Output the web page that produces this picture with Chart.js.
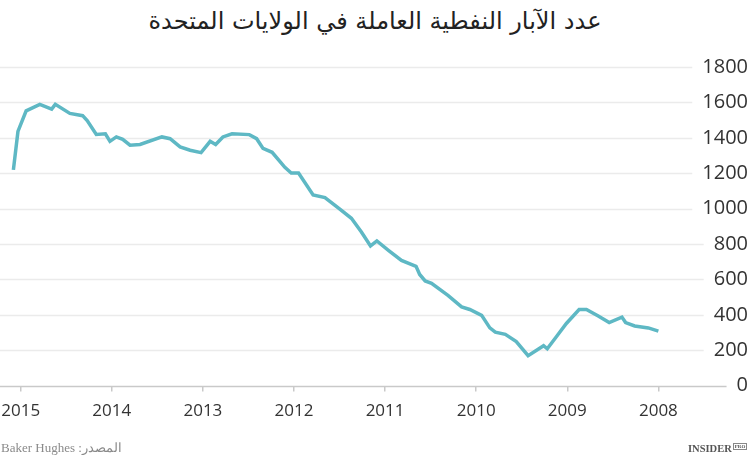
<!DOCTYPE html>
<html lang="ar">
<head>
<meta charset="utf-8">
<script src="https://cdn.jsdelivr.net/npm/chart.js@4"></script>
<style>
  html, body { margin: 0; padding: 0; background: #fff; }
  #wrap { position: relative; width: 750px; height: 455px; overflow: hidden; }
  #titulo { position: absolute; left: 0; top: 7px; width: 750px; text-align: center;
            font-family: "DejaVu Sans", sans-serif; font-size: 24px; color: #222; }
  #fuente { position: absolute; left: 1px; top: 440px; font-family: "Liberation Serif", serif;
            font-size: 13px; color: #8a8a8a; }
  #logo { position: absolute; left: 688px; top: 443px; font-family: "Liberation Serif", serif;
          font-weight: bold; font-size: 10.5px; color: #555; }
  #logo span { font-size: 5px; border: 1px solid #888; padding: 0 1px; vertical-align: 4px; margin-left: 1px; }
  canvas { position: absolute; left: 0; top: 0; }
</style>
</head>
<body>
<div id="wrap">
  <div id="titulo" dir="rtl">عدد الآبار النفطية العاملة في الولايات المتحدة</div>
  <canvas id="grafico" width="750" height="455"></canvas>
  <div id="fuente" dir="rtl">المصدر: Baker Hughes</div>
  <div id="logo">INSIDER<span>PRO</span></div>
</div>
<script>
// fechas (año decimal) y número de pozos activos
const fechas = [
  2008.00, 2008.11, 2008.26, 2008.36, 2008.40, 2008.54, 2008.66, 2008.79, 2008.87, 2009.01,
  2009.12, 2009.22, 2009.26, 2009.43, 2009.56, 2009.68, 2009.79, 2009.85, 2009.94, 2010.07,
  2010.16, 2010.31, 2010.49, 2010.56, 2010.62, 2010.66, 2010.82, 2010.96, 2011.09, 2011.16,
  2011.26, 2011.37, 2011.50, 2011.66, 2011.79, 2011.95, 2012.03, 2012.10, 2012.24, 2012.34,
  2012.41, 2012.49, 2012.68, 2012.78, 2012.86, 2012.92, 2013.02, 2013.14, 2013.25, 2013.36,
  2013.45, 2013.69, 2013.80, 2013.88, 2013.95, 2014.02, 2014.07, 2014.17, 2014.27, 2014.32,
  2014.46, 2014.62, 2014.66, 2014.79, 2014.94, 2015.03, 2015.08
];
const pozos = [
  308, 326, 337, 356, 387, 356, 393, 430, 430, 351,
  276, 208, 225, 169, 249, 290, 302, 326, 397, 430,
  445, 510, 578, 591, 628, 674, 707, 763, 817, 789,
  868, 945, 998, 1062, 1077, 1201, 1201, 1233, 1318, 1340,
  1395, 1418, 1423, 1405, 1362, 1380, 1316, 1330, 1349, 1395,
  1405, 1362, 1358, 1391, 1405, 1380, 1423, 1419, 1497, 1525,
  1538, 1589, 1562, 1589, 1552, 1436, 1219
];
const aniosEje = [2008, 2009, 2010, 2011, 2012, 2013, 2014, 2015];
const valoresEje = [0, 200, 400, 600, 800, 1000, 1200, 1400, 1600, 1800];

const fuenteEjeY = { family: "'Open Sans', sans-serif", size: 20 };

// líneas de la rejilla que terminan antes de cada etiqueta
const rejilla = {
  id: 'rejilla',
  beforeDatasetsDraw(chart) {
    const ctx = chart.ctx;
    const y = chart.scales.y;
    const area = chart.chartArea;
    ctx.save();
    ctx.font = fuenteEjeY.size + 'px ' + fuenteEjeY.family;
    valoresEje.forEach(v => {
      const py = Math.round(y.getPixelForValue(v)) + 0.5;
      const ancho = ctx.measureText(String(v)).width;
      const fin = 748 - ancho - 10;
      ctx.beginPath();
      ctx.strokeStyle = v === 0 ? '#c9c9c9' : '#ebebeb';
      ctx.lineWidth = 1.5;
      ctx.moveTo(area.left, py);
      ctx.lineTo(fin, py);
      ctx.stroke();
    });
    ctx.restore();
  }
};

new Chart(document.getElementById('grafico'), {
  type: 'line',
  data: {
    labels: fechas,
    datasets: [{
      data: fechas.map((f, i) => ({ x: f, y: pozos[i] })),
      borderColor: '#5eb8c4',
      borderWidth: 3.5,
      pointRadius: 0,
      tension: 0,
      fill: false
    }]
  },
  options: {
    responsive: false,
    animation: false,
    layout: { padding: { left: 0, right: 2, top: 67, bottom: 25 } },
    plugins: { legend: { display: false }, tooltip: { enabled: false } },
    scales: {
      x: {
        type: 'linear',
        reverse: true,
        min: 2007.609,
        max: 2015.227,
        afterBuildTicks: s => { s.ticks = aniosEje.map(v => ({ value: v })); },
        grid: { display: true, drawOnChartArea: false, drawTicks: true, tickLength: 6, color: '#c9c9c9', lineWidth: 1.5 },
        border: { display: false },
        ticks: {
          font: { family: "'Open Sans', sans-serif", size: 17 },
          color: '#333',
          padding: 9,
          maxRotation: 0,
          autoSkip: false,
          callback: v => String(v)
        }
      },
      y: {
        position: 'right',
        min: 0,
        max: 1800,
        afterBuildTicks: s => { s.ticks = valoresEje.map(v => ({ value: v })); },
        afterFit: s => { s.width = 54; },
        grid: { display: false },
        border: { display: false },
        ticks: {
          font: fuenteEjeY,
          color: '#333',
          crossAlign: 'far',
          padding: 8,
          callback: v => String(v)
        }
      }
    }
  },
  plugins: [rejilla]
});
</script>
</body>
</html>
